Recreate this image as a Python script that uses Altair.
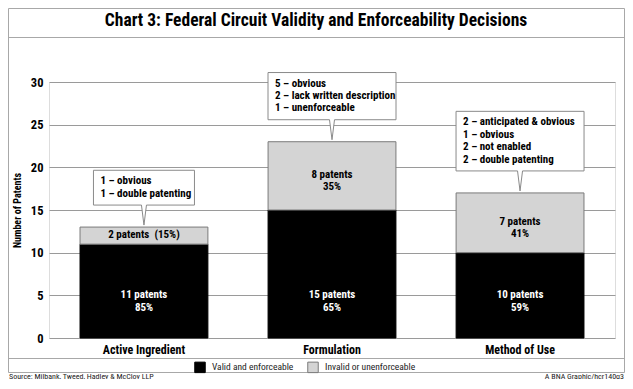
import altair as alt
import pandas as pd

# ---------------- data ----------------
categories = ["Active Ingredient", "Formulation", "Method of Use"]
status = ["Valid and enforceable", "Invalid or unenforceable"]
valid = [11, 15, 10]
invalid = [2, 8, 7]
valid_labels = ["11 patents\n85%", "15 patents\n65%", "10 patents\n59%"]
invalid_labels = ["2 patents\u00a0 (15%)", "8 patents\n35%", "7 patents\n41%"]
callout_lines = [
    ["1 \u2013 obvious", "1 \u2013 double patenting"],
    ["5 \u2013 obvious", "2 \u2013 lack written description", "1 \u2013 unenforceable"],
    ["2 \u2013 anticipated & obvious", "1 \u2013 obvious", "2 \u2013 not enabled", "2 \u2013 double patenting"],
]
y_ticks = [0, 5, 10, 15, 20, 25, 30]
title_text = "Chart 3: Federal Circuit Validity and Enforceability Decisions"
source_text = "Source: Milbank, Tweed, Hadley & McCloy LLP"
credit_text = "A BNA Graphic/hcr140g3"

# ---------------- layout / style ----------------
W, H = 566, 256
PAD_L, PAD_T = 41, 74
SVG_W, SVG_H = 617, 371
PAD_R = SVG_W - PAD_L - W
PAD_B = SVG_H - PAD_T - H
YMAX = 30
PX = H / YMAX  # pixels per unit
LH = 12.4      # callout line height

FONT = "Roboto Condensed, Open Sans Condensed, DejaVu Sans Condensed, sans-serif"
GRID = "#9a9a9a"
FRAME = "#a8a8a8"
BOXSTROKE = "#8a8a8a"
LIGHT = "#d4d4d4"
box_widths = [101, 128, 128]

yscale = alt.Scale(domain=[0, YMAX], nice=False, zero=True)
xscale = alt.Scale(paddingInner=0.32, paddingOuter=0.165)

# ---------------- tables ----------------
rows = []
for i, c in enumerate(categories):
    rows.append({"category": c, "status": status[0], "value": valid[i], "ord": 0})
    rows.append({"category": c, "status": status[1], "value": invalid[i], "ord": 1})
bars_df = pd.DataFrame(rows)

lab_rows = []
for i, c in enumerate(categories):
    lab_rows.append({"category": c, "kind": "valid", "label": valid_labels[i],
                     "ypos": 4.9})
    lab_rows.append({"category": c, "kind": "invalid", "label": invalid_labels[i],
                     "ypos": valid[i] + invalid[i] / 2})
labels_df = pd.DataFrame(lab_rows)

one = pd.DataFrame({"a": [0]})

X = alt.X("category:N", sort=categories, scale=xscale, title=None)

layers = []

# stacked bars (carry the axes)
bars = alt.Chart(bars_df).mark_bar(strokeWidth=1).encode(
    x=alt.X("category:N", sort=categories, scale=xscale, title=None,
            axis=alt.Axis(labelAngle=0, domain=False, ticks=False, grid=False, labelPadding=6,
                          labelFont=FONT, labelFontSize=12, labelFontWeight="bold",
                          labelColor="#000")),
    y=alt.Y("value:Q", stack="zero", scale=yscale, title="Number of Patents",
            axis=alt.Axis(values=y_ticks, grid=True, gridColor=GRID, gridOpacity=1,
                          domain=False, ticks=False, labelPadding=6, labelFont=FONT,
                          labelFontSize=12.5, labelFontWeight="bold", labelColor="#000",
                          titleFont=FONT, titleFontSize=10, titleFontWeight="bold",
                          titleColor="#000", titleX=-32, titleY=H / 2,
                          titleAlign="center", titleBaseline="middle", titleAngle=270)),
    color=alt.Color("status:N", scale=alt.Scale(domain=status, range=["#000000", LIGHT]),
                    legend=alt.Legend(title=None, orient="none", direction="horizontal",
                                      legendX=145, legendY=279, symbolType="square",
                                      symbolSize=110, symbolStrokeColor="#666",
                                      symbolStrokeWidth=1, symbolOpacity=1,
                                      labelFont=FONT, labelFontSize=9.5, labelColor="#222",
                                      labelOffset=6, columnPadding=11, padding=0)),
    stroke=alt.Stroke("status:N", scale=alt.Scale(domain=status, range=["#000000", "#7a7a7a"]),
                      legend=None),
    order=alt.Order("ord:Q"),
)
layers.append(bars)

# bar labels
for kind, col in [("valid", "#ffffff"), ("invalid", "#000000")]:
    layers.append(
        alt.Chart(labels_df).transform_filter(alt.datum.kind == kind)
        .mark_text(font=FONT, fontSize=11, fontWeight="bold", color=col,
                   lineBreak="\n", lineHeight=12.5, baseline="middle", dy=-1)
        .encode(x=X, y=alt.Y("ypos:Q", scale=yscale), text="label:N")
    )

# callouts
for i, c in enumerate(categories):
    total = valid[i] + invalid[i]
    n = len(callout_lines[i])
    w = box_widths[i]
    box_bottom = total + 22 / PX
    box_top = box_bottom + (LH * n + 10) / PX
    cdf = pd.DataFrame({"category": [c], "top": [box_top], "bottom": [box_bottom],
                        "ptr": [total + 12 / PX], "text": ["\n".join(callout_lines[i])]})
    layers.append(
        alt.Chart(cdf).mark_bar(width=w, fill="#ffffff", stroke=BOXSTROKE, strokeWidth=1)
        .encode(x=X, y=alt.Y("top:Q", scale=yscale), y2="bottom:Q")
    )
    layers.append(
        alt.Chart(cdf).mark_point(shape="M -0.25 -1.15 L -0.25 -1 L 0 1 L 0.25 -1 L 0.25 -1.15 Z",
                                  size=400, filled=True, fill="#ffffff", opacity=1,
                                  strokeWidth=0)
        .encode(x=X, y=alt.Y("ptr:Q", scale=yscale))
    )
    layers.append(
        alt.Chart(cdf).mark_point(shape="M -0.25 -1 L 0 1 L 0.25 -1",
                                  size=400, filled=False, stroke=BOXSTROKE, opacity=1,
                                  strokeWidth=1)
        .encode(x=X, y=alt.Y("ptr:Q", scale=yscale))
    )
    layers.append(
        alt.Chart(cdf).mark_text(font=FONT, fontSize=11, fontWeight="bold", color="#000",
                                 align="left", baseline="top", lineBreak="\n",
                                 lineHeight=LH, dx=-w / 2 + 7, dy=5)
        .encode(x=X, y=alt.Y("top:Q", scale=yscale), text="text:N")
    )

# frame lines (decoration, pixel placed)
FL, FR = -PAD_L + 0.5, W + PAD_R - 0.5
FT, FB = -PAD_T + 0.5, 290.5
def hline(y, color=FRAME):
    return alt.Chart(one).mark_rule(color=color, strokeWidth=1).encode(
        x=alt.value(FL), x2=alt.value(FR), y=alt.value(y))
def vline(x, color=FRAME):
    return alt.Chart(one).mark_rule(color=color, strokeWidth=1).encode(
        x=alt.value(x), y=alt.value(FT), y2=alt.value(FB))

layers += [hline(FT), hline(-44.5), hline(276.5), hline(FB), vline(FL), vline(FR)]

# title and footer text
layers.append(alt.Chart(one).mark_text(font=FONT, fontSize=17.5, fontWeight="bold", color="#000",
                                       align="center", baseline="middle")
              .encode(x=alt.value(267), y=alt.value(-61), text=alt.value(title_text)))
layers.append(alt.Chart(one).mark_text(font=FONT, fontSize=8, color="#222", align="left",
                                       baseline="alphabetic")
              .encode(x=alt.value(-PAD_L + 1), y=alt.value(296.5), text=alt.value(source_text)))
layers.append(alt.Chart(one).mark_text(font=FONT, fontSize=8, color="#222", align="right",
                                       baseline="alphabetic")
              .encode(x=alt.value(W + PAD_R - 1), y=alt.value(296.5), text=alt.value(credit_text)))

chart = (
    alt.layer(*layers)
    .properties(
        width=W, height=H,
        autosize=alt.AutoSizeParams(type="none"),
        padding={"left": PAD_L, "top": PAD_T, "right": PAD_R, "bottom": PAD_B},
    )
    .configure_view(stroke=GRID, strokeWidth=1)
    .configure(background="#ffffff")
)

chart.save("out.html", embed_options={"renderer": "svg", "actions": False})
